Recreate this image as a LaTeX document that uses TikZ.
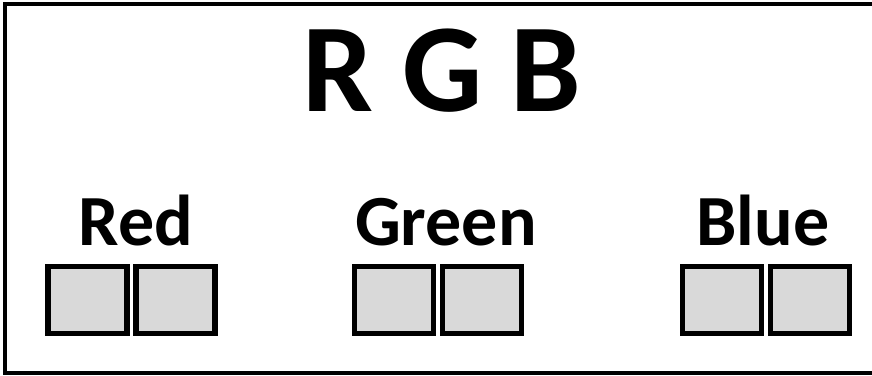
\documentclass[tikz,border=0pt]{standalone}
\usepackage{fontspec}
\setmainfont{Carlito}
\usepackage{xcolor}
\usetikzlibrary{positioning}
\definecolor{cellgray}{HTML}{D9D9D9}
\tikzset{
  frame/.style={draw, line width=4pt},
  cell/.style={draw, fill=cellgray, line width=5.5pt, minimum width=79pt,
               minimum height=67pt, inner sep=0pt, outer sep=0pt},
  ttl/.style={font=\fontsize{126}{126}\selectfont\bfseries, inner sep=0pt, anchor=base},
  lbl/.style={font=\fontsize{72}{72}\selectfont\bfseries, inner sep=0pt, anchor=base}
}

\begin{document}
\begin{tikzpicture}[x=1pt, y=-1pt, node distance=9pt]
  \useasboundingbox (0,0) rectangle (872,375);
  \draw[frame] (5,4) rectangle (880,372.5);
  \node[ttl] (title) at (442,111) {R G B};
  % colour channels
  \node[lbl] (redlbl) at (136,245) {Red};
  \node[cell] (red1) at (87.5,300) {};
  \node[cell, right=of red1] (red2) {};
  \node[lbl] (greenlbl) at (446,245) {Green};
  \node[cell] (green1) at (394,300) {};
  \node[cell, right=of green1] (green2) {};
  \node[lbl] (bluelbl) at (763,245) {Blue};
  \node[cell] (blue1) at (722,300) {};
  \node[cell, right=of blue1] (blue2) {};
\end{tikzpicture}
\end{document}
